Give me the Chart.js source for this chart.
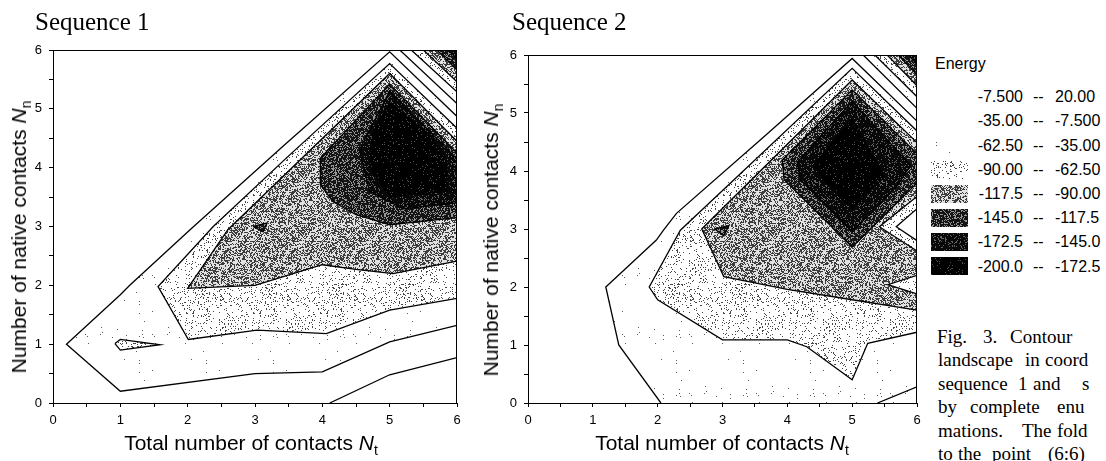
<!DOCTYPE html>
<html><head><meta charset="utf-8">
<script src="https://cdn.jsdelivr.net/npm/chart.js@4.4.1/dist/chart.umd.min.js"></script>
<style>
html,body{margin:0;padding:0;background:#fff;overflow:hidden;width:1106px;height:461px;}
#wrap{position:relative;width:1106px;height:461px;overflow:hidden;background:#fff;}
canvas{position:absolute;top:0;}
.t{position:absolute;white-space:nowrap;color:#000;}
.serif{font-family:'Liberation Serif','Times New Roman',serif;}
.sans{font-family:'Liberation Sans',Arial,sans-serif;}
.sw{position:absolute;width:37px;height:18px;}
</style></head>
<body><div id="wrap">
<canvas id="c1" width="470" height="461" style="left:0;width:470px;height:461px"></canvas>
<canvas id="c2" width="460" height="461" style="left:470px;width:460px;height:461px"></canvas>
</div>
<script>
// ---------------- DATA ----------------
const X_TICKS = [0, 1, 2, 3, 4, 5, 6];
const Y_TICKS = [0, 1, 2, 3, 4, 5, 6];
const SEQ_TITLES = ['Sequence 1', 'Sequence 2'];
const ENERGY_RANGES = [
  ['-7.500', '20.00'], ['-35.00', '-7.500'], ['-62.50', '-35.00'], ['-90.00', '-62.50'],
  ['-117.5', '-90.00'], ['-145.0', '-117.5'], ['-172.5', '-145.0'], ['-200.0', '-172.5']
];

// Sequence 1 contour lines (Nt, Nn)
const S1_A = [[4.11,0],[5,0.48],[6,0.77]];
const S1_B = [[6,1.32],[5,1.04],[4,0.53],[3,0.5],[1,0.2],[0.2,1.0],[1,1.84],[1.14,2.0],[2.06,2.97],[3.42,4.37],[5,5.97],[6,4.87]];
const S1_ISLAND = [[0.92,1.01],[1.0,1.08],[1.59,0.99],[1.0,0.9],[0.92,1.01]];
const S1_C = [[6,1.78],[5,1.58],[4.06,1.18],[3.03,1.24],[2.01,1.08],[1.56,1.98],[2.38,3.0],[3.5,4.2],[5,5.77],[6,4.67]];
const S1_D = [[6,2.41],[5.05,2.2],[4.5,2.27],[4,2.35],[3,2.0],[2,1.95],[2.6,2.95],[5,5.6],[6,4.45]];
const S1_TRI = [[2.97,3.0],[3.18,3.06],[3.12,2.91],[2.97,3.0]];
const S1_E = [[6,3.15],[5,3.03],[4.5,3.2],[4.16,3.42],[3.97,3.71],[3.97,4.16],[5,5.42],[6,4.25]];
const S1_F = [[6,3.4],[5.2,3.3],[4.7,3.6],[4.55,4.3],[5,5.3],[6,4.15]];
const S1_G = [[5.85,3.6],[5.0,3.5],[4.7,4.0],[4.75,4.6],[5.0,5.1],[5.6,4.55],[5.85,4.1],[5.85,3.6]];
const S1_K1 = [[5.15,6],[6,5.09],[6,6]];
const S1_K2 = [[5.32,6],[6,5.29],[6,6]];
const S1_K3 = [[5.5,6],[6,5.46],[6,6]];
const S1_K4 = [[5.7,6],[6,5.66],[6,6]];
const S1_K5 = [[5.87,6],[6,5.85],[6,6]];
const SEQ1_LINES = [S1_A, S1_B, S1_C, S1_ISLAND, S1_D, S1_TRI, S1_E, S1_F, S1_G, S1_K1, S1_K2, S1_K3, S1_K4, S1_K5];
// energy band (index into ENERGY_RANGES) inside each contour, null = line only
const SEQ1_BANDS = [null, 2, 3, 3, 4, 5, 5, 6, 7, 2, 3, 4, 5, 6];

// Sequence 2 contour lines
const S2_A = [[5.39,0],[6,0.28]];
const S2_B = [[2.05,0],[1.4,1.0],[1.2,2.0],[1.98,2.81],[2.09,2.98],[2.29,3.27],[3.6,4.55],[5,5.94],[6,4.86],[6,0]];
const S2_C = [[6,1.22],[5.24,1.03],[5,0.40],[4.3,0.97],[4,1.09],[3.0,1.09],[2.0,1.78],[1.87,2.0],[2.35,2.98],[3.12,3.79],[5,5.77],[6,4.69]];
const S2_D = [[6,1.6],[5,1.78],[4,1.96],[3.02,2.18],[2.68,3.0],[5,5.57],[6,4.49]];
const S2_V3 = [[6,2.2],[5.55,2.04],[6,1.88]];
const S2_TRI = [[2.88,3.0],[3.1,3.06],[3.02,2.88],[2.88,3.0]];
const S2_E = [[6,4.3],[5,5.40],[3.92,4.19],[3.95,3.85],[5,2.69],[6,3.79]];
const S2_F = [[5.9,4.1],[5,5.2],[4.15,4.15],[4.2,3.85],[5,2.95],[5.7,3.75],[5.9,4.1]];
const S2_G = [[5,4.9],[4.4,4.1],[4.6,3.8],[5,3.35],[5.5,3.9],[5,4.9]];
const S2_V1 = [[6,3.56],[5.42,3.04],[6,2.62]];
const S2_V2 = [[6,3.35],[5.68,3.04],[6,2.8]];
const S2_K1 = [[5.17,6],[6,5.08],[6,6]];
const S2_K2 = [[5.35,6],[6,5.28],[6,6]];
const S2_K3 = [[5.54,6],[6,5.47],[6,6]];
const S2_K4 = [[5.71,6],[6,5.66],[6,6]];
const S2_K5 = [[5.87,6],[6,5.84],[6,6]];
const SEQ2_LINES = [S2_A, S2_B, S2_C, S2_D, S2_V3, S2_TRI, S2_E, S2_F, S2_G, S2_V1, S2_V2, S2_K1, S2_K2, S2_K3, S2_K4, S2_K5];
const SEQ2_BANDS = [null, 2, 3, 4, 3, 5, 5, 6, 7, 3, 2, 2, 3, 4, 5, 6];

// ---------------- STYLE ----------------
const BAND_STYLE = [null, null,
  {d:0.006, bg:255, fg:90, seed:3},
  {d:0.10, bg:255, fg:70, seed:5},
  {d:0.45, bg:225, fg:60, seed:7},
  {d:0.70, bg:150, fg:20, seed:11},
  {d:0.86, bg:100, fg:8, seed:13},
  {d:0.95, bg:80, fg:0, seed:17}];

function hash(x, y, s) {
  let h = (Math.imul(x, 374761393) + Math.imul(y, 668265263) + Math.imul(s, 1274126177)) | 0;
  h = Math.imul(h ^ (h >>> 13), 1274126177);
  h ^= h >>> 16;
  return (h >>> 0) / 4294967296;
}
function tile(st) {
  const W = 67, H = 59;
  const c = document.createElement('canvas'); c.width = W; c.height = H;
  const g = c.getContext('2d'); const im = g.createImageData(W, H);
  for (let y = 0; y < H; y++) for (let x = 0; x < W; x++) {
    const v = hash(x, y, st.seed) < st.d ? st.fg : st.bg;
    const i = (y * W + x) * 4;
    im.data[i] = im.data[i+1] = im.data[i+2] = v; im.data[i+3] = 255;
  }
  g.putImageData(im, 0, 0); return c;
}
const TILES = BAND_STYLE.map(s => s ? tile(s) : null);

const contourPlugin = {
  id: 'contourFill',
  beforeDatasetsDraw(chart) {
    const {ctx, chartArea: a} = chart;
    if (!chart.$pats) chart.$pats = TILES.map(t => t ? ctx.createPattern(t, 'repeat') : null);
    ctx.save();
    ctx.beginPath(); ctx.rect(a.left, a.top, a.right - a.left, a.bottom - a.top); ctx.clip();
    chart.data.datasets.forEach((ds, i) => {
      if (ds.band == null || !chart.$pats[ds.band]) return;
      const pts = chart.getDatasetMeta(i).data;
      ctx.beginPath();
      pts.forEach((p, j) => j ? ctx.lineTo(p.x, p.y) : ctx.moveTo(p.x, p.y));
      ctx.closePath();
      ctx.fillStyle = chart.$pats[ds.band];
      ctx.fill();
    });
    ctx.restore();
  },
  afterDatasetsDraw(chart) {
    const {ctx, chartArea: a} = chart;
    ctx.save();
    ctx.strokeStyle = '#000'; ctx.lineWidth = 1;
    ctx.beginPath();
    ctx.moveTo(a.left, a.top + 0.5); ctx.lineTo(a.right - 0.5, a.top + 0.5); ctx.lineTo(a.right - 0.5, a.bottom);
    ctx.stroke();
    ctx.restore();
  }
};

function makeChart(id, lines, bands, axisW, padTop, padRight) {
  const datasets = lines.map((ln, i) => ({
    data: ln.map(p => ({x: p[0], y: p[1]})),
    band: bands[i],
    showLine: true, fill: false,
    borderColor: '#000', borderWidth: 1.3,
    pointRadius: 0, pointHoverRadius: 0, tension: 0
  }));
  const tickFont = {family: "'Liberation Sans', Arial, sans-serif", size: 13};
  return new Chart(document.getElementById(id), {
    type: 'scatter',
    data: {datasets},
    options: {
      responsive: false, animation: false, devicePixelRatio: 1,
      layout: {padding: {left: 0, right: padRight, top: padTop, bottom: 0}},
      plugins: {legend: {display: false}, tooltip: {enabled: false}},
      scales: {
        x: {
          type: 'linear', min: 0, max: 6,
          ticks: {stepSize: 0.5, autoSkip: false, maxRotation: 0, padding: 6, color: '#000', font: tickFont,
                  callback: v => X_TICKS.includes(v) ? String(v) : ''},
          grid: {drawOnChartArea: false, drawTicks: true, tickLength: 4, color: '#000'},
          border: {display: true, color: '#000'},
          afterFit: s => { s.height = 58; }
        },
        y: {
          type: 'linear', min: 0, max: 6,
          ticks: {stepSize: 0.5, autoSkip: false, padding: 7, color: '#000', font: tickFont,
                  callback: v => Y_TICKS.includes(v) ? String(v) : ''},
          grid: {drawOnChartArea: false, drawTicks: true, tickLength: 4, color: '#000'},
          border: {display: true, color: '#000'},
          afterFit: s => { s.width = axisW; }
        }
      }
    },
    plugins: [contourPlugin]
  });
}
makeChart('c1', SEQ1_LINES, SEQ1_BANDS, 53, 50, 13);
makeChart('c2', SEQ2_LINES, SEQ2_BANDS, 58, 55, 13);

// ---------------- TEXT ----------------
const wrap = document.getElementById('wrap');
function addText(html, x, baseline, size, cls, extraStyle) {
  const d = document.createElement('div');
  d.className = 't ' + cls;
  const k = cls === 'serif' ? 0.837 : 0.845;
  d.style.cssText = `left:${x}px;top:${baseline - k * size}px;font-size:${size}px;line-height:${size}px;` + (extraStyle || '');
  d.innerHTML = html;
  wrap.appendChild(d);
  return d;
}
function addCentered(html, cx, cy, size, rotate) {
  const d = document.createElement('div');
  d.className = 't sans';
  d.style.cssText = `left:${cx}px;top:${cy}px;font-size:${size}px;line-height:${size}px;transform:translate(-50%,-50%)${rotate ? ' rotate(-90deg)' : ''};`;
  d.innerHTML = html;
  wrap.appendChild(d);
}
addText(SEQ_TITLES[0], 35, 29.5, 25, 'serif');
addText(SEQ_TITLES[1], 512, 29.5, 25, 'serif');

const sub = s => `<span style="font-size:14px;position:relative;top:5px">${s}</span>`;
const xTitle = 'Total number of contacts <i>N</i>' + sub('t');
const yTitle = 'Number of native contacts <i>N</i>' + sub('n');
addCentered(xTitle, 251, 443.5, 21, false);
addCentered(xTitle, 722, 443.5, 21, false);
addCentered(yTitle, 19.5, 237, 21, true);
addCentered(yTitle, 492, 240, 21, true);

// legend
addText('Energy', 935, 69.7, 16, 'sans');
ENERGY_RANGES.forEach((r, i) => {
  const cy = 97 + 24.2 * i;
  const base = cy + 5.7;
  addText(r[0], 973, base, 16, 'sans', 'width:50px;text-align:right;');
  addText('--', 1033, base, 16, 'sans');
  addText(r[1], 1055, base, 16, 'sans');
  const t = TILES[i];
  if (t) {
    const s = document.createElement('div');
    s.className = 'sw';
    s.style.left = '931px'; s.style.top = (cy - 9) + 'px';
    s.style.backgroundImage = `url(${t.toDataURL()})`;
    wrap.appendChild(s);
  }
});

// caption
const CAPTION = [
  {b: 342.5, w: [[937,'Fig.'],[983,'3.'],[1010,'Contour']]},
  {b: 366, w: [[938,'landscape'],[1025,'in'],[1045,'coord']]},
  {b: 389.5, w: [[938,'sequence'],[1018,'1'],[1033,'and'],[1082,'s']]},
  {b: 413, w: [[938,'by'],[970,'complete'],[1057,'enu']]},
  {b: 436.5, w: [[938,'mations.'],[1022,'The'],[1057,'fold']]},
  {b: 459.5, w: [[938,'to'],[958,'the'],[992,'point'],[1048,'(6:6)']]}
];
CAPTION.forEach(l => l.w.forEach(([x, s]) => addText(s, x, l.b, 19, 'serif')));
</script>
</body></html>
